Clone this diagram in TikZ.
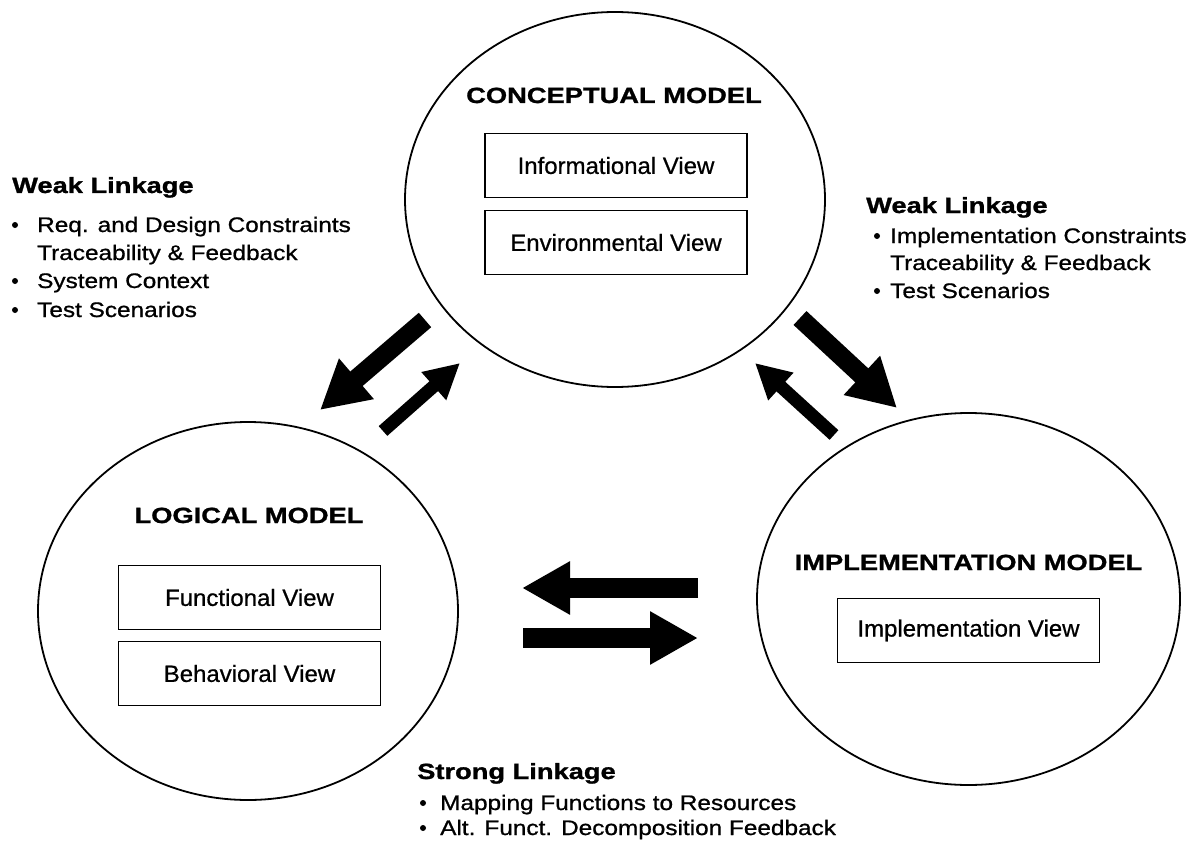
\documentclass[tikz,border=0pt]{standalone}
\usepackage{fontspec}
\setmainfont{Liberation Sans}
\newfontfamily\headfont[FakeStretch=1.24,FakeBold=1.2]{Liberation Sans}
\newfontfamily\itemfont[FakeStretch=1.16,FakeBold=0.9]{Liberation Sans}
\newfontfamily\viewfont[FakeStretch=1.02,FakeBold=0.7]{Liberation Sans}
\usetikzlibrary{arrows.meta,shapes.geometric}

\begin{document}
\begin{tikzpicture}[x=1pt,y=-1pt,
  model/.style={ellipse, draw, line width=1.8pt, inner sep=0pt},
  viewbox/.style={draw, line width=1.5pt, minimum width=262pt, minimum height=64pt,
    inner sep=0pt, font=\viewfont\fontsize{23.5}{28}\selectfont},
  title/.style={anchor=base, inner sep=0pt, font=\headfont\bfseries\fontsize{22}{26}\selectfont},
  linkhead/.style={anchor=base west, inner sep=0pt, font=\headfont\bfseries\fontsize{22}{26}\selectfont},
  item/.style={anchor=base west, inner sep=0pt, font=\itemfont\fontsize{21}{25}\selectfont},
  dot/.style={circle, fill, inner sep=0pt, minimum size=6pt},
  fatarrow/.style={line width=19pt, -{Triangle[length=48pt,width=50pt]}},
  thinarrow/.style={line width=13pt, -{Triangle[length=35pt,width=35pt]}},
]
\useasboundingbox[fill=white] (0,0) rectangle (1202,848);

% the three models
\node[model, minimum width=420pt, minimum height=375pt] (conc) at (615,199.5) {};
\node[model, minimum width=420pt, minimum height=378pt] (logi) at (248,611) {};
\node[model, minimum width=423pt, minimum height=372pt] (impl) at (968.5,599) {};

% conceptual model
\node[title] (conct) at (614,103) {CONCEPTUAL MODEL};
\node[viewbox] (info) at (616,165.5) {Informational View};
\node[viewbox] (envi) at (616,242.5) {Environmental View};

% logical model
\node[title] (logit) at (249,523) {LOGICAL MODEL};
\node[viewbox] (func) at (249.5,597.5) {Functional View};
\node[viewbox] (beha) at (249.5,673.5) {Behavioral View};

% implementation model
\node[title] (implt) at (968.5,570) {IMPLEMENTATION MODEL};
\node[viewbox] (implv) at (968.5,630.5) {Implementation View};

% weak linkage, conceptual <-> logical
\node[linkhead] (wl1) at (12,193) {Weak Linkage};
\node[dot] (wl1d1) at (15,225) {};
\node[item] (wl1a) at (37,232) {Req. and Design Constraints};
\node[item] (wl1b) at (37,260) {Traceability \& Feedback};
\node[dot] (wl1d2) at (15,281) {};
\node[item] (wl1c) at (37,288) {System Context};
\node[dot] (wl1d3) at (15,310) {};
\node[item] (wl1e) at (37,317) {Test Scenarios};

% weak linkage, conceptual <-> implementation
\node[linkhead] (wl2) at (866,213) {Weak Linkage};
\node[dot] (wl2d1) at (877,236) {};
\node[item] (wl2a) at (890,243) {Implementation Constraints};
\node[item] (wl2b) at (890,270) {Traceability \& Feedback};
\node[dot] (wl2d2) at (877,291) {};
\node[item] (wl2c) at (890,298) {Test Scenarios};

% strong linkage, logical <-> implementation
\node[linkhead] (sl) at (417,779) {Strong Linkage};
\node[dot] (sld1) at (423,803) {};
\node[item] (sla) at (440,810) {Mapping Functions to Resources};
\node[dot] (sld2) at (423,828) {};
\node[item] (slb) at (440,835) {Alt. Funct. Decomposition Feedback};

% arrow end points
\coordinate (cl0) at (425,320);  \coordinate (cl1) at (320,410);
\coordinate (lc0) at (383,431);  \coordinate (lc1) at (460,363);
\coordinate (ci0) at (800,318);  \coordinate (ci1) at (897,408);
\coordinate (ic0) at (834,435);  \coordinate (ic1) at (755,363);
\coordinate (il0) at (698,588);  \coordinate (il1) at (522,588);
\coordinate (li0) at (523,638);  \coordinate (li1) at (698,638);

\draw[fatarrow]  (cl0) -- (cl1);
\draw[thinarrow] (lc0) -- (lc1);
\draw[fatarrow]  (ci0) -- (ci1);
\draw[thinarrow] (ic0) -- (ic1);
\draw[fatarrow, line width=20pt] (il0) -- (il1);
\draw[fatarrow, line width=20pt] (li0) -- (li1);
\end{tikzpicture}
\end{document}
